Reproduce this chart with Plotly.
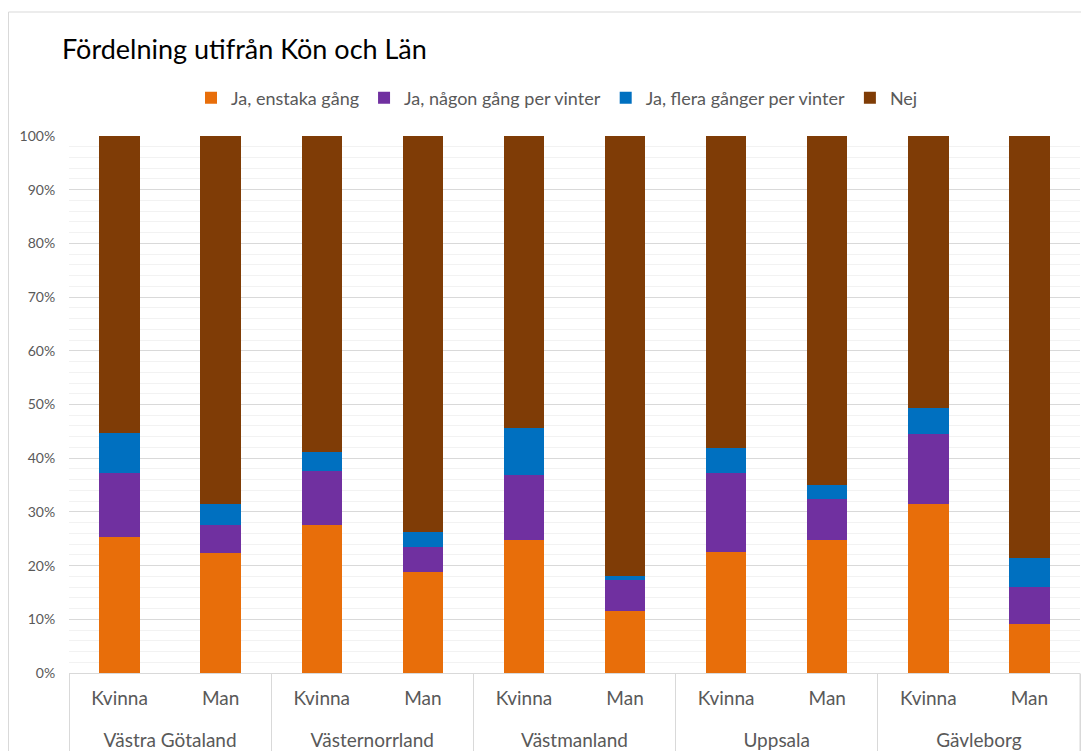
import plotly.graph_objects as go

lan = ["Västra Götaland", "Västra Götaland", "Västernorrland", "Västernorrland",
       "Västmanland", "Västmanland", "Uppsala", "Uppsala", "Gävleborg", "Gävleborg"]
kon = ["Kvinna", "Man"] * 5

enstaka = [25.3, 22.3, 27.6, 18.9, 24.8, 11.5, 22.5, 24.8, 31.4, 9.2]
nagon = [11.9, 5.3, 10.0, 4.6, 12.0, 5.9, 14.7, 7.6, 13.2, 6.9]
flera = [7.5, 3.8, 3.5, 2.8, 8.9, 0.7, 4.7, 2.6, 4.7, 5.4]
nej = [55.3, 68.6, 58.9, 73.7, 54.3, 81.9, 58.1, 65.0, 50.7, 78.5]

serier = [
    ("Ja, enstaka gång", enstaka, "#E86E0A"),
    ("Ja, någon gång per vinter", nagon, "#7030A0"),
    ("Ja, flera gånger per vinter", flera, "#0070C0"),
    ("Nej", nej, "#7F3C06"),
]

font = "Lato"
# sidan har 8px marginal, så allt ritas 8px upp/vänster
L, R, T, B = 61, 1072, 128, 665
pw, ph = R - L, B - T

# tom första rad flyttar länsnamnen längre ner
lan_etikett = ["<br>" + s for s in lan]

fig = go.Figure()
for namn, varden, farg in serier:
    fig.add_trace(go.Bar(x=[lan_etikett, kon], y=varden, name=namn,
                         marker=dict(color=farg, line=dict(width=0))))

fig.update_layout(
    barmode="stack",
    bargap=0.6,
    width=1089, height=751,
    margin=dict(l=L, r=1089 - R, t=T, b=751 - B),
    paper_bgcolor="white", plot_bgcolor="white",
    font=dict(family=font, size=18, color="#595959"),
    title=dict(text="Fördelning utifrån Kön och Län", x=54 / 1089, xanchor="left",
               y=1 - 42 / 751, yanchor="middle",
               font=dict(family=font, size=27, color="black")),
    legend=dict(orientation="h", x=(549 - L) / pw, xanchor="center", y=(B - 90) / ph,
                yanchor="middle", font=dict(size=18, color="#595959"),
                traceorder="normal", itemwidth=30),
    showlegend=True,
)

fig.update_yaxes(range=[0, 100], dtick=10, ticksuffix="%", showgrid=True,
                 gridcolor="#d9d9d9", gridwidth=1, zeroline=False, automargin=False,
                 ticks="outside", ticklen=10, tickcolor="rgba(0,0,0,0)",
                 tickfont=dict(size=14, color="#595959"),
                 minor=dict(dtick=2, showgrid=True, gridcolor="#f2f2f2"))
fig.update_xaxes(showline=True, linecolor="#d9d9d9", showdividers=True,
                 dividercolor="#d9d9d9", dividerwidth=1, automargin=False,
                 ticks="outside", ticklen=10, tickcolor="rgba(0,0,0,0)",
                 ticklabelstandoff=8,
                 tickfont=dict(size=19, color="#595959"))

# ram runt diagrammet
ram = dict(color="#d9d9d9", width=1)
fig.add_shape(type="line", xref="paper", yref="paper", x0=(0.5 - L) / pw, x1=(0.5 - L) / pw,
              y0=(B - 760) / ph, y1=(B - 4) / ph, line=ram)
fig.add_shape(type="line", xref="paper", yref="paper", x0=(0.5 - L) / pw, x1=(1100 - L) / pw,
              y0=(B - 4) / ph, y1=(B - 4) / ph, line=ram)
# avdelare vid höger kant
fig.add_shape(type="line", xref="paper", yref="paper", x0=1, x1=1,
              y0=(B - 760) / ph, y1=0, line=ram)

fig.write_html("out.html")
